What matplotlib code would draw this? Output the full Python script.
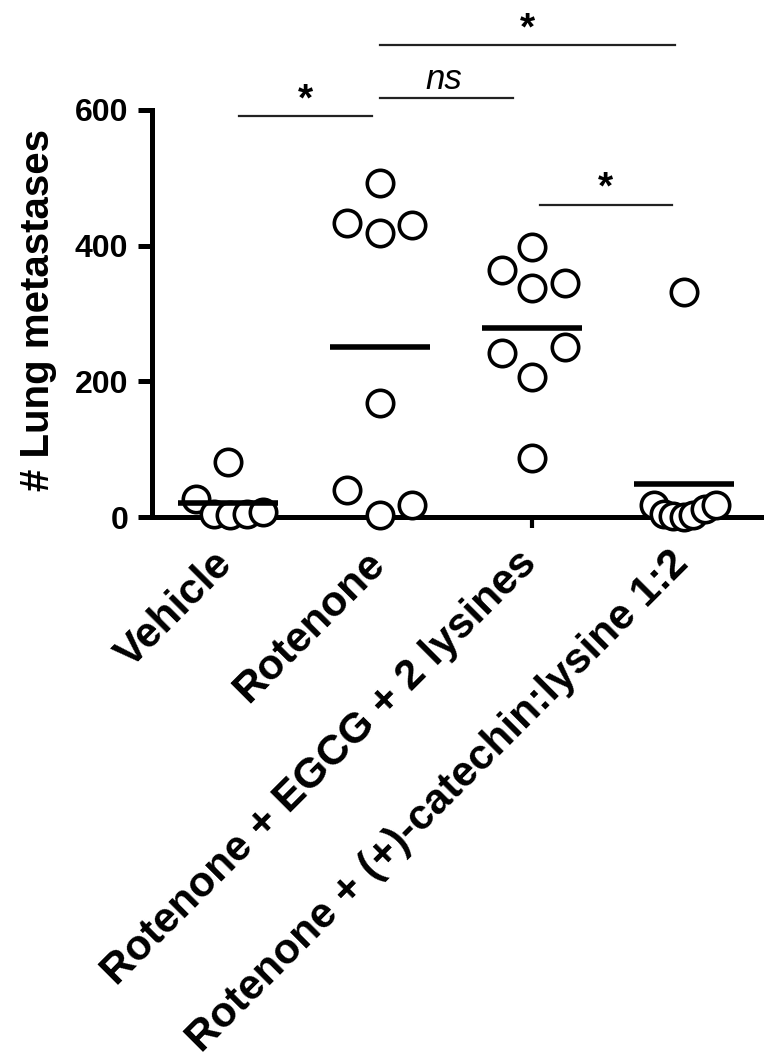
import numpy as np
import matplotlib
matplotlib.use("Agg")
import matplotlib.pyplot as plt
from matplotlib.transforms import ScaledTranslation

plt.rcParams['font.family'] = ['Liberation Sans', 'DejaVu Sans']

# group names and lung metastasis counts
groups = ['Vehicle', 'Rotenone', 'Rotenone + EGCG + 2 lysines',
          'Rotenone + (+)-catechin:lysine 1:2']
vehicle = [81, 26, 4, 3, 5, 8]
rotenone = [493, 434, 419, 431, 168, 40, 3, 18]
egcg = [398, 364, 338, 345, 242, 251, 206, 87]
catechin = [332, 18, 4, 1, 0, 3, 12, 17]
values = [vehicle, rotenone, egcg, catechin]

# horizontal scatter of the points inside each column
spread = [[0, -0.21, -0.09, 0.01, 0.125, 0.23],
          [0, -0.22, 0, 0.21, 0, -0.22, 0, 0.21],
          [0, -0.2, 0, 0.22, -0.2, 0.22, 0, 0],
          [0, -0.2, -0.13, -0.07, 0, 0.06, 0.14, 0.21]]

# significance brackets: (x start, x end, y, label)
brackets = [(0.07, 0.95, 591, '*'),
            (1.0, 1.875, 617, 'ns'),
            (1.0, 2.94, 695, '*'),
            (2.05, 2.92, 460, '*')]

fig = plt.figure(figsize=(7.64, 10.61), dpi=100)
ax = fig.add_axes([0.199, 0.5127, 0.801, 0.4873])

for i, vals in enumerate(values):
    xs = i + np.array(spread[i])
    ax.plot(xs, vals, 'o', ms=19, mfc='white', mec='black', mew=2.6,
            clip_on=False, zorder=3)
    ax.plot([i - 0.33, i + 0.33], [np.mean(vals)] * 2, color='black',
            lw=4, solid_capstyle='butt', zorder=4)

for x0, x1, y, lab in brackets:
    ax.plot([x0, x1], [y, y], color='#222222', lw=1.6, clip_on=False)
    if lab == 'ns':
        ax.text((x0 + x1) / 2 - 0.02, y + 4, lab, ha='center', va='bottom',
                fontsize=25, style='italic')
    else:
        ax.text((x0 + x1) / 2, y - 3, lab, ha='center', va='bottom',
                fontsize=28, fontweight='bold')

ax.set_xlim(-0.5, 3.526)
ax.set_ylim(0, 762)
ax.spines['top'].set_visible(False)
ax.spines['right'].set_visible(False)
ax.spines['left'].set_bounds(0, 600)
ax.spines['left'].set_linewidth(3.6)
ax.spines['bottom'].set_linewidth(3.6)
ax.spines['bottom'].set_zorder(2)

ax.set_yticks([0, 200, 400, 600])
ax.set_yticklabels(['0', '200', '400', '600'], fontsize=23, fontweight='bold')
ax.tick_params(axis='y', length=10, width=3.6, pad=7)
ax.set_xticks(range(len(groups)))
ax.set_xticklabels(groups, rotation=45, ha='right', rotation_mode='anchor',
                   fontsize=30.5, fontweight='bold')
ax.tick_params(axis='x', length=8, width=3, pad=11)
shift = ScaledTranslation(-0.16, 0, fig.dpi_scale_trans)
for lab in ax.get_xticklabels():
    lab.set_transform(lab.get_transform() + shift)

ax.set_ylabel('# Lung metastases', fontsize=29, fontweight='bold')
ax.yaxis.set_label_coords(-0.155, 0.4)

fig.savefig('out.png', dpi=100)
